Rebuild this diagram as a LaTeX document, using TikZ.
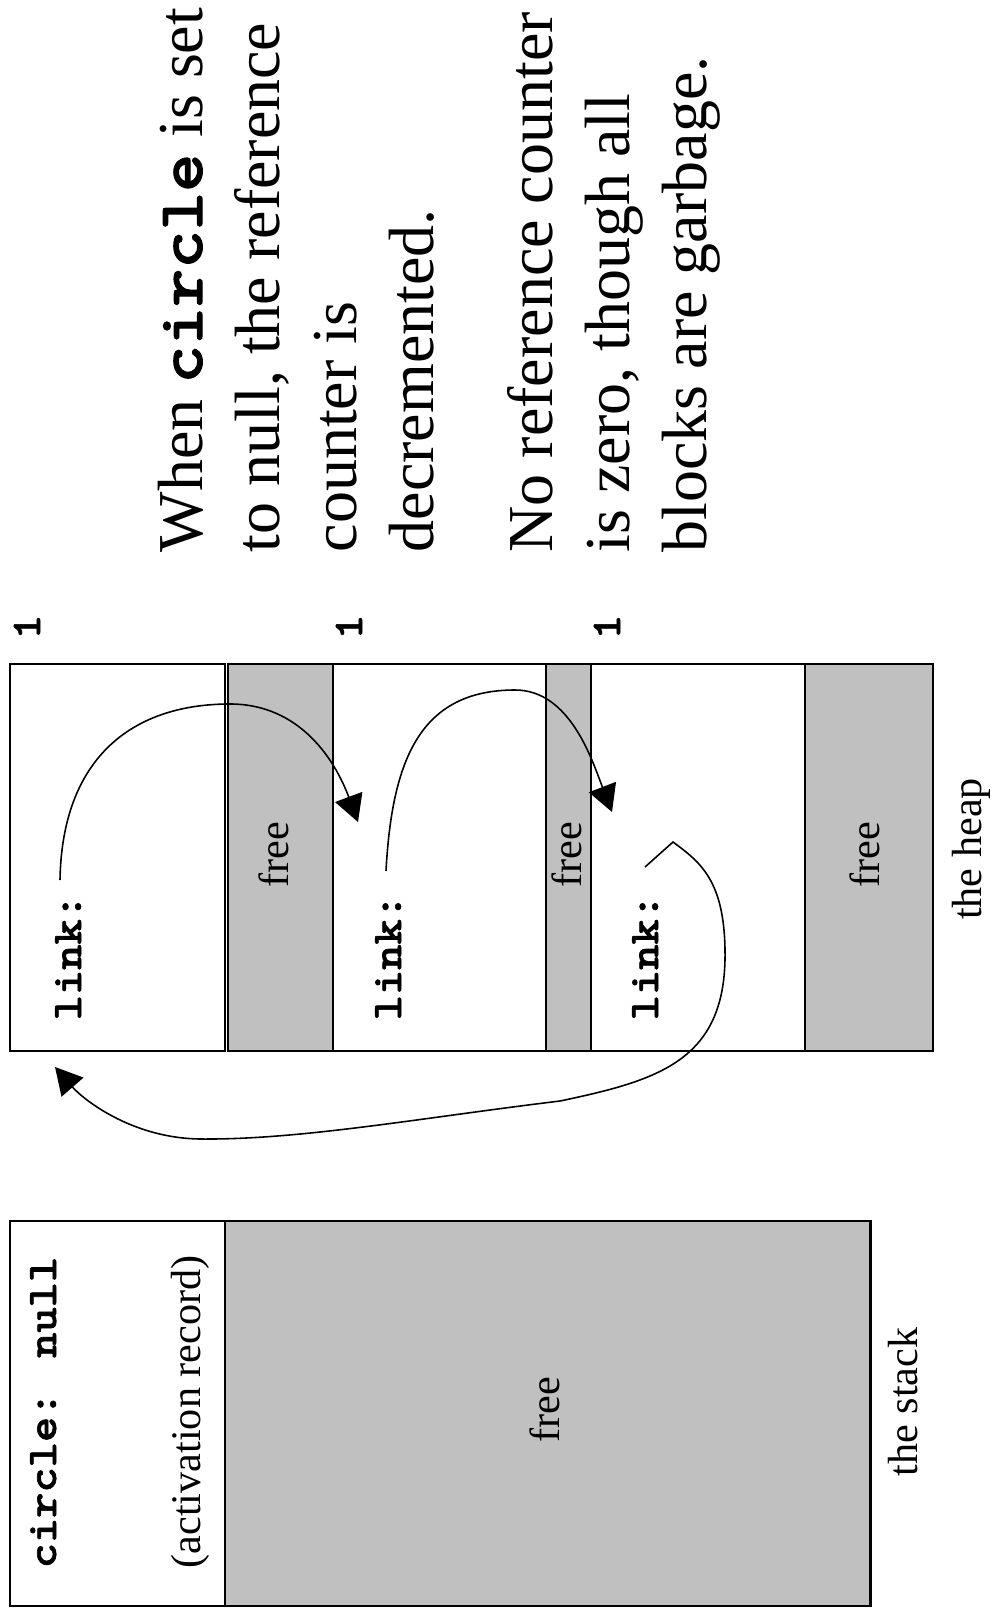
\documentclass[tikz,border=0pt]{standalone}
\usepackage{fontspec}
\setmainfont{Liberation Serif}
\newfontfamily\codefont{lmmonolt10-bold.otf}[FakeStretch=1.14,FakeBold=1.5]
\usetikzlibrary{positioning,arrows.meta}
\definecolor{freegray}{HTML}{C0C0C0}
\tikzset{
  blockbox/.style={draw, line width=0.6pt, fill=white, outer sep=0pt, inner sep=0pt},
  freebox/.style={draw, line width=0.6pt, fill=freegray, outer sep=0pt, inner sep=0pt},
  label12/.style={rotate=90, inner sep=0pt, font=\rmfamily\fontsize{12}{14}\selectfont},
  code12/.style={rotate=90, inner sep=0pt, font=\codefont\fontsize{12}{14}\selectfont},
  note/.style={rotate=90, inner sep=0pt, align=left, font=\rmfamily\fontsize{18.2}{21.9}\selectfont},
  ptr/.style={-{Triangle[length=7.6pt,width=8.2pt]}, line width=0.45pt},
}
\begin{document}
\begin{tikzpicture}[x=0.01cm, y=-0.01cm]
\useasboundingbox (0,0) rectangle (991,1619);

% the heap
\node[blockbox, minimum width=2.15cm, minimum height=3.87cm, anchor=north west] (blk1) at (10,664) {};
\node[freebox, minimum width=1.05cm, minimum height=3.87cm, right=0.025cm of blk1] (free1) {};
\node[blockbox, minimum width=2.13cm, minimum height=3.87cm, right=0pt of free1] (blk2) {};
\node[freebox, minimum width=0.45cm, minimum height=3.87cm, right=0pt of blk2] (free2) {};
\node[blockbox, minimum width=2.14cm, minimum height=3.87cm, right=0pt of free2] (blk3) {};
\node[freebox, minimum width=1.28cm, minimum height=3.87cm, right=0pt of blk3] (free3) {};

\node[code12, anchor=base] (count1) at (40,627) {1};
\node[code12, anchor=base] (count2) at (362,627) {1};
\node[code12, anchor=base] (count3) at (620,627) {1};

\node[code12, anchor=base west] (link1) at (81,1021) {link:};
\node[code12, anchor=base west] (link2) at (401,1021) {link:};
\node[code12, anchor=base west] (link3) at (658,1021) {link:};

\node[label12, anchor=base] (freetxt1) at (288,855) {free};
\node[label12, anchor=base] (freetxt2) at (581,855) {free};
\node[label12, anchor=base] (freetxt3) at (879,855) {free};
\node[label12, anchor=base] (heaptxt) at (981,849) {the heap};

% the stack
\node[blockbox, minimum width=2.15cm, minimum height=3.85cm, anchor=north west] (actrec) at (10,1221) {};
\node[freebox, minimum width=6.45cm, minimum height=3.85cm, right=0pt of actrec] (stackfree) {};

\node[code12, anchor=base west] (circletxt) at (56,1569) {circle: null};
\node[label12, anchor=base west] (actrectxt) at (200,1569) {(activation record)};
\node[label12, anchor=base] (stackfreetxt) at (559,1410) {free};
\node[label12, anchor=base] (stacktxt) at (917,1402) {the stack};

% the notes
\node[note, anchor=north west] (note1) at (157,553) {When {\codefont circle} is set\\to null, the reference\\counter is\\decremented.};
\node[note, anchor=north west] (note2) at (507,553) {No reference counter\\is zero, though all\\blocks are garbage.};

% the links
\coordinate (ptr1s) at (60,880);
\coordinate (ptr1m) at (230,704);
\coordinate (ptr1e) at (358,822);
\coordinate (ptr2s) at (386,871);
\coordinate (ptr2m) at (515,690);
\coordinate (ptr2e) at (612,812);
\coordinate (ptr3s) at (645,867);
\coordinate (ptr3k) at (673,842);
\coordinate (ptr3r) at (725,950);
\coordinate (ptr3b) at (560,1101);
\coordinate (ptr3c) at (200,1139);
\coordinate (ptr3e) at (55,1067);

\draw[ptr] (ptr1s) .. controls (62,760) and (130,704) .. (ptr1m)
  .. controls (300,704) and (335,760) .. (ptr1e);
\draw[ptr] (ptr2s) .. controls (392,760) and (420,690) .. (ptr2m)
  .. controls (570,690) and (592,760) .. (ptr2e);
\draw[ptr] (ptr3s) -- (ptr3k) .. controls (700,862) and (724,880) .. (ptr3r)
  .. controls (727,1060) and (660,1080) .. (ptr3b)
  .. controls (420,1118) and (300,1140) .. (ptr3c)
  .. controls (130,1138) and (82,1098) .. (ptr3e);
\end{tikzpicture}
\end{document}
